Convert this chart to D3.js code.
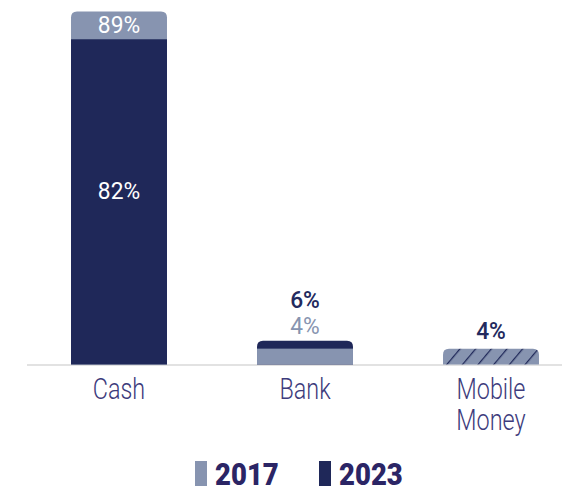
<!DOCTYPE html>
<html><head><meta charset="utf-8">
<script src="https://cdn.jsdelivr.net/npm/d3@7"></script>
<style>
html,body{margin:0;padding:0;background:#fff;}
svg{display:block;}
</style></head>
<body>
<svg id="chart" width="562" height="489"></svg>
<script>
const categories = ["Cash", "Bank", "Mobile Money"];
const values2017 = [89, 4, null];
const values2023 = [82, 6, 4];
const seriesNames = ["2017", "2023"];

const W = 562, H = 489;
const light = "#8794b0", dark = "#1f2859";
const font = "Roboto, 'DejaVu Sans Condensed', sans-serif";

const svg = d3.select("#chart");
const defs = svg.append("defs");
const pat = defs.append("pattern").attr("id", "hatch")
  .attr("patternUnits", "userSpaceOnUse").attr("width", 12).attr("height", 12)
  .attr("patternTransform", "rotate(40)");
pat.append("rect").attr("width", 12).attr("height", 12).attr("fill", light);
pat.append("line").attr("x1", 0).attr("y1", 0).attr("x2", 0).attr("y2", 12)
  .attr("stroke", dark).attr("stroke-width", 2.5);

const x = d3.scaleBand().domain(categories).range([26, 584])
  .paddingInner(0.484).paddingOuter(0.242);
const y = d3.scaleLinear().domain([0, 89]).range([364.5, 11.5]);

// baseline
svg.append("line").attr("x1", 27).attr("x2", W).attr("y1", 365).attr("y2", 365)
  .attr("stroke", "#d9d9d9").attr("stroke-width", 1.5);

function topRounded(x0, w, yTop, yBot, r) {
  r = Math.min(r, (yBot - yTop));
  return `M${x0},${yBot}V${yTop + r}Q${x0},${yTop} ${x0 + r},${yTop}H${x0 + w - r}Q${x0 + w},${yTop} ${x0 + w},${yTop + r}V${yBot}Z`;
}

const rows = categories.map((c, i) => ({ cat: c, v17: values2017[i], v23: values2023[i] }));
const g = svg.append("g");
rows.forEach(d => {
  const bx = x(d.cat), bw = x.bandwidth();
  const bars = [];
  if (d.v17 != null) bars.push({ v: d.v17, fill: light });
  if (d.v23 != null) bars.push({ v: d.v23, fill: d.v17 == null ? "url(#hatch)" : dark });
  bars.sort((a, b) => b.v - a.v);
  bars.forEach((b, k) => {
    if (k === 0) {
      g.append("path").attr("d", topRounded(bx, bw, y(b.v), y(0), 6)).attr("fill", b.fill);
    } else {
      g.append("rect").attr("x", bx).attr("width", bw).attr("y", y(b.v)).attr("height", y(0) - y(b.v)).attr("fill", b.fill);
    }
  });
});

const cx = c => x(c) + x.bandwidth() / 2;
function txt(parent, tx, ty, sx, s, anchor) {
  return parent.append("text").attr("transform", `translate(${tx},${ty}) scale(${sx},1)`)
    .attr("text-anchor", anchor || "middle").text(s);
}

// value labels
const lab = svg.append("g").attr("font-family", font).attr("font-size", 24);
txt(lab, cx("Cash"), y(values2017[0]) + 21, 0.95, values2017[0] + "%").attr("fill", "#fff");
txt(lab, cx("Cash"), (y(values2017[0]) + y(0)) / 2 + 11, 0.95, values2023[0] + "%").attr("fill", "#fff");
txt(lab, cx("Bank"), y(values2023[1]) - 32.5, 0.95, values2023[1] + "%").attr("fill", "#232a5e").attr("font-weight", 500);
txt(lab, cx("Bank"), y(values2023[1]) - 6.5, 0.95, values2017[1] + "%").attr("fill", light);
txt(lab, cx("Mobile Money"), y(values2023[2]) - 10, 0.95, values2023[2] + "%").attr("fill", "#232a5e").attr("font-weight", 500);

// category labels (multi-line as one text element)
const cl = svg.append("g").attr("font-family", font).attr("font-weight", 300)
  .attr("fill", "#3d3b7c").attr("font-size", 30);
categories.forEach(c => {
  const t = cl.append("text").attr("transform", `translate(${cx(c)},399) scale(0.78,1)`)
    .attr("text-anchor", "middle");
  c.split(" ").forEach((w, i) => t.append("tspan").attr("x", 0).attr("dy", i === 0 ? 0 : 31).text(w));
});

// legend
const leg = svg.append("g").attr("font-family", font).attr("font-weight", 900)
  .attr("font-size", 32).attr("fill", "#2b2565");
const legX = [195, 319];
seriesNames.forEach((s, i) => {
  leg.append("rect").attr("x", legX[i]).attr("y", 461).attr("width", 12).attr("height", 25)
    .attr("fill", i === 0 ? light : dark);
  txt(leg, legX[i] + 20, 485, 0.86, s, "start");
});
</script>
</body></html>
